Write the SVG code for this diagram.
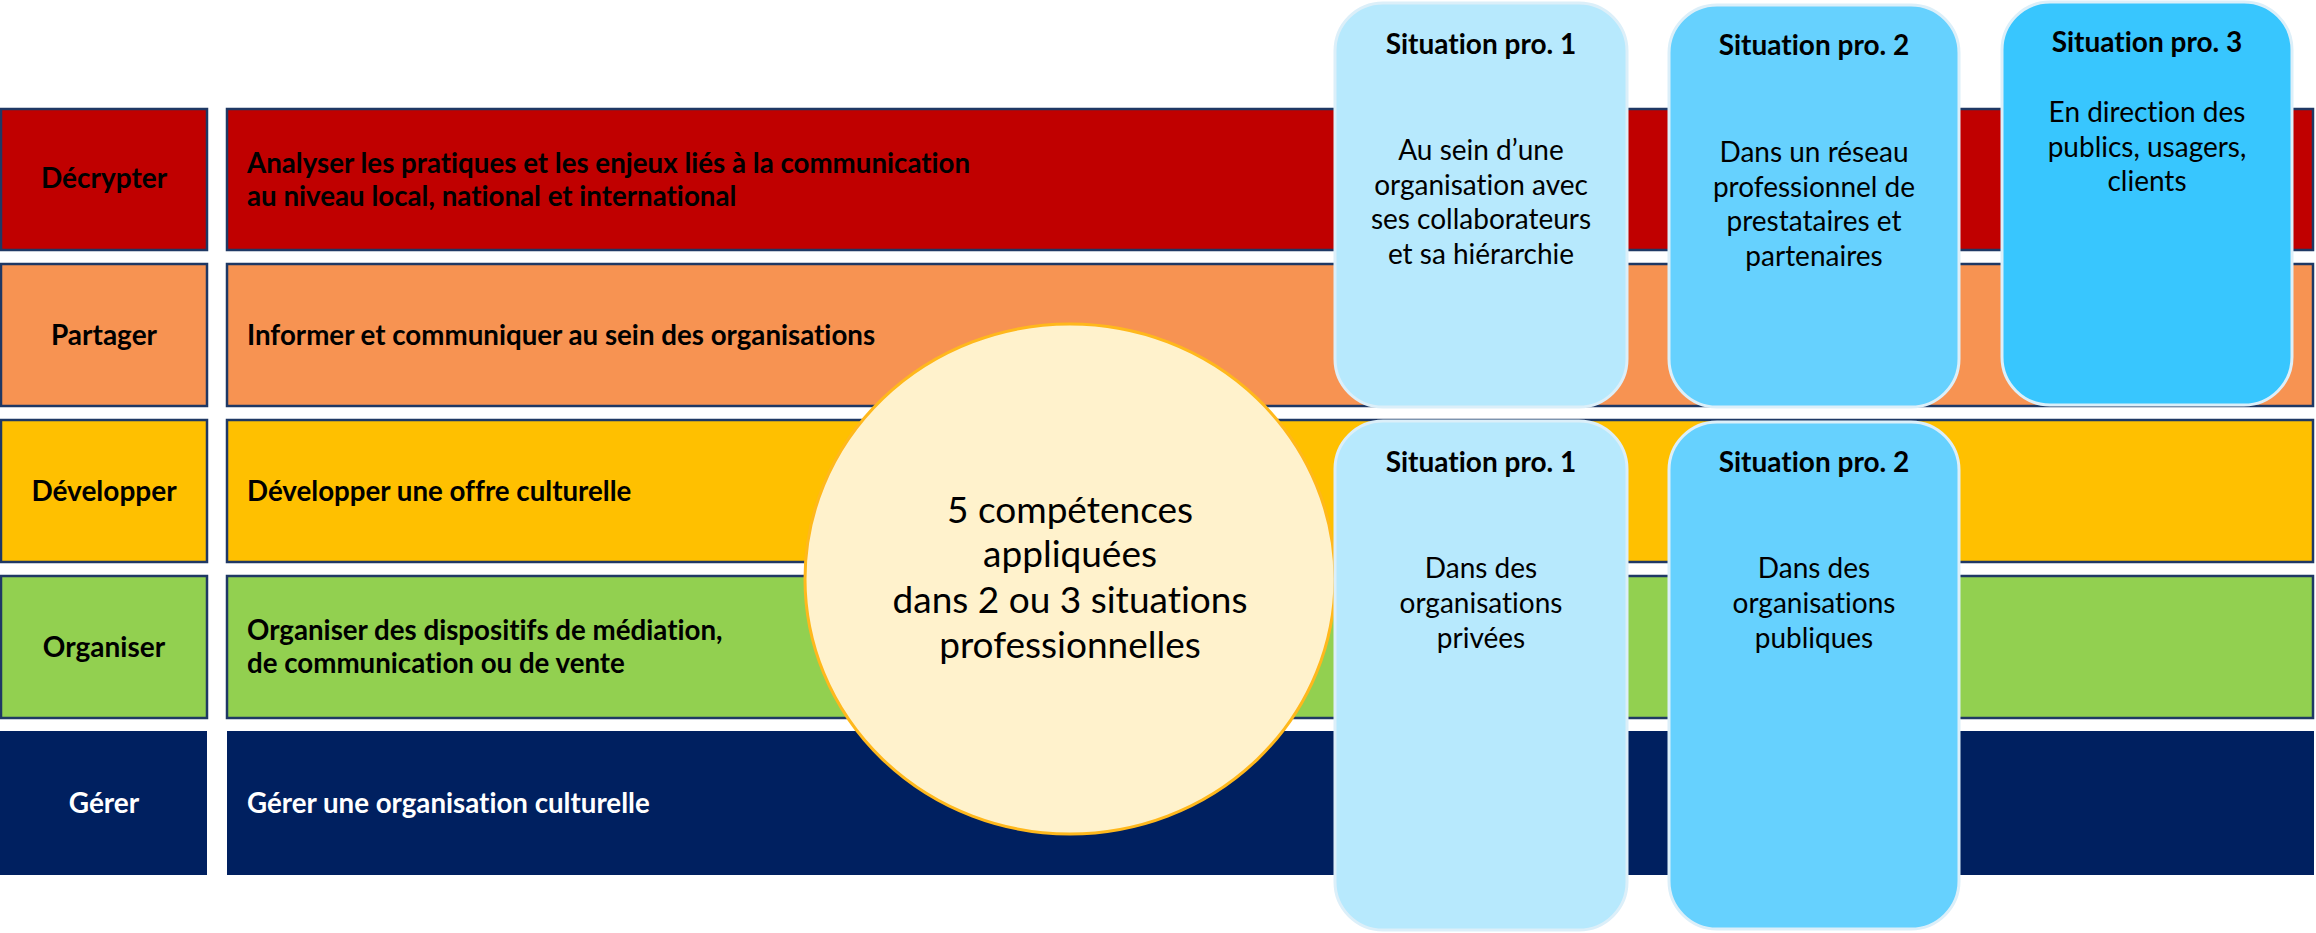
<svg xmlns="http://www.w3.org/2000/svg" width="2316" height="933" viewBox="0 0 2316 933">
<style>
text{font-variant-ligatures:none;font-feature-settings:"liga" 0,"clig" 0}
.band{stroke:#1F3864;stroke-width:2.5}
.lbl{font-family:Lato,"Liberation Sans",sans-serif;font-weight:bold;font-size:28px;text-anchor:middle}
.main{font-family:Lato,"Liberation Sans",sans-serif;font-weight:bold;font-size:27.7px}
.sit{stroke:#DCEFF9;stroke-width:3}
.st{font-family:Lato,"Liberation Sans",sans-serif;font-weight:bold;font-size:28px;text-anchor:middle;fill:#000}
.sb{font-family:Lato,"Liberation Sans",sans-serif;font-size:28px;text-anchor:middle;fill:#000}
.ct{font-family:Lato,"Liberation Sans",sans-serif;font-size:37px;text-anchor:middle;fill:#000}
</style>
<rect width="2316" height="933" fill="#FFFFFF"/>
<g id="row-decrypter">
<rect class="band" x="1" y="109" width="206" height="141" fill="#C00000"/>
<rect class="band" x="227" y="109" width="2086" height="141" fill="#C00000"/>
<text class="lbl" x="104" y="188">Décrypter</text>
<text class="main" x="247" y="172.5">Analyser les pratiques et les enjeux liés à la communication</text>
<text class="main" x="247" y="206">au niveau local, national et international</text>
</g>
<g id="row-partager">
<rect class="band" x="1" y="264" width="206" height="142" fill="#F79352"/>
<rect class="band" x="227" y="264" width="2086" height="142" fill="#F79352"/>
<text class="lbl" x="104" y="344.5">Partager</text>
<text class="main" x="247" y="344.5">Informer et communiquer au sein des organisations</text>
</g>
<g id="row-developper">
<rect class="band" x="1" y="420" width="206" height="142" fill="#FFC000"/>
<rect class="band" x="227" y="420" width="2086" height="142" fill="#FFC000"/>
<text class="lbl" x="104" y="500.5">Développer</text>
<text class="main" x="247" y="500.5">Développer une offre culturelle</text>
</g>
<g id="row-organiser">
<rect class="band" x="1" y="576" width="206" height="142" fill="#92D050"/>
<rect class="band" x="227" y="576" width="2086" height="142" fill="#92D050"/>
<text class="lbl" x="104" y="657">Organiser</text>
<text class="main" x="247" y="640">Organiser des dispositifs de médiation,</text>
<text class="main" x="247" y="673">de communication ou de vente</text>
</g>
<g id="row-gerer">
<rect x="0" y="731" width="207" height="144" fill="#002060"/>
<rect x="227" y="731" width="2087" height="144" fill="#002060"/>
<text class="lbl" x="104" y="813" fill="#FFFFFF">Gérer</text>
<text class="main" x="247" y="813" fill="#FFFFFF">Gérer une organisation culturelle</text>
</g>
<g id="center-circle">
<ellipse cx="1070" cy="579" rx="265" ry="255" fill="#FFF2CC" stroke="#FFB81C" stroke-width="3"/>
<text class="ct" x="1070" y="523">5 compétences</text>
<text class="ct" x="1070" y="567">appliquées</text>
<text class="ct" x="1070" y="613">dans 2 ou 3 situations</text>
<text class="ct" x="1070" y="658">professionnelles</text>
</g>
<g id="sit-top-1">
<rect class="sit" x="1335" y="3" width="292" height="404" rx="48" ry="48" fill="#B7E9FD"/>
<text class="st" x="1481" y="54">Situation pro. 1</text>
<text class="sb" x="1481" y="160">Au sein d’une</text>
<text class="sb" x="1481" y="194.5">organisation avec</text>
<text class="sb" x="1481" y="229">ses collaborateurs</text>
<text class="sb" x="1481" y="263.5">et sa hiérarchie</text>
</g>
<g id="sit-top-2">
<rect class="sit" x="1669" y="5" width="290" height="402" rx="48" ry="48" fill="#66D1FE"/>
<text class="st" x="1814" y="55">Situation pro. 2</text>
<text class="sb" x="1814" y="162">Dans un réseau</text>
<text class="sb" x="1814" y="196.5">professionnel de</text>
<text class="sb" x="1814" y="231">prestataires et</text>
<text class="sb" x="1814" y="265.5">partenaires</text>
</g>
<g id="sit-top-3">
<rect class="sit" x="2002" y="2" width="290" height="403" rx="48" ry="48" fill="#38C6FE"/>
<text class="st" x="2147" y="52">Situation pro. 3</text>
<text class="sb" x="2147" y="122">En direction des</text>
<text class="sb" x="2147" y="157">publics, usagers,</text>
<text class="sb" x="2147" y="191">clients</text>
</g>
<g id="sit-bottom-1">
<rect class="sit" x="1335" y="421" width="292" height="509" rx="48" ry="48" fill="#B7E9FD"/>
<text class="st" x="1481" y="472">Situation pro. 1</text>
<text class="sb" x="1481" y="578">Dans des</text>
<text class="sb" x="1481" y="613">organisations</text>
<text class="sb" x="1481" y="648">privées</text>
</g>
<g id="sit-bottom-2">
<rect class="sit" x="1669" y="422" width="290" height="507" rx="48" ry="48" fill="#66D1FE"/>
<text class="st" x="1814" y="472">Situation pro. 2</text>
<text class="sb" x="1814" y="578">Dans des</text>
<text class="sb" x="1814" y="613">organisations</text>
<text class="sb" x="1814" y="648">publiques</text>
</g>
<g id="connectors"></g>
</svg>
